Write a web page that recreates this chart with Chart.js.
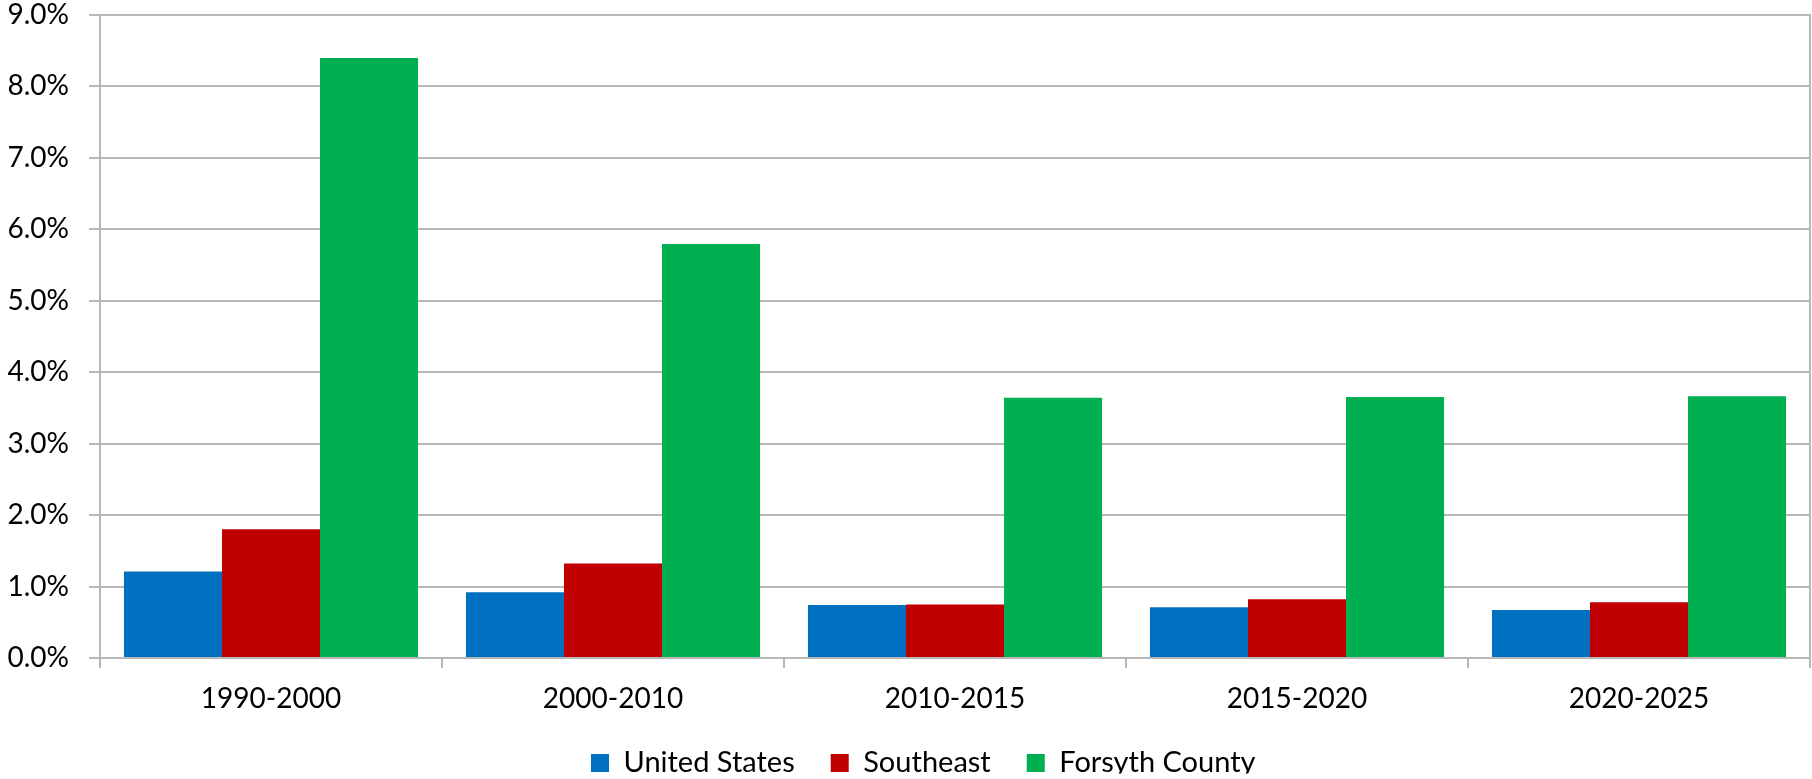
<!DOCTYPE html>
<html><head><meta charset="utf-8">
<script src="https://cdn.jsdelivr.net/npm/chart.js@4"></script>
<style>html,body{margin:0;padding:0;background:#fff;}</style>
</head><body>
<canvas id="c" width="1812" height="779"></canvas>
<script>
const categories = ['1990-2000', '2000-2010', '2010-2015', '2015-2020', '2020-2025'];
const unitedStates = [1.21, 0.92, 0.74, 0.71, 0.67];
const southeast = [1.80, 1.32, 0.75, 0.82, 0.78];
const forsythCounty = [8.39, 5.79, 3.64, 3.65, 3.66];
const seriesNames = ['United States', 'Southeast', 'Forsyth County'];
const seriesColors = ['#0070C0', '#C00000', '#00B050'];
const yMin = 0, yMax = 9, yStep = 1;

const GRID = '#B8B8B8';
const legendPlace = {
  id: 'legendPlace',
  beforeLayout(chart) {
    const l = chart.legend;
    if (!l || l._patched) return;
    const f = l.fit.bind(l);
    l.fit = function () { f(); this.height = 61; };
    l._patched = true;
  },
  afterLayout(chart) {
    const l = chart.legend;
    if (!l) return;
    const pad = l.options.labels.padding;
    const w = l.right - l.left;
    l.left = 591 - pad;
    l.right = l.left + w;
    l.top = 748.5 - pad;
    l.bottom = l.top + 61;
  }
};

const seriesData = [unitedStates, southeast, forsythCounty];
new Chart(document.getElementById('c'), {
  type: 'bar',
  data: {
    labels: categories,
    datasets: seriesNames.map((n, i) => ({
      label: n,
      data: seriesData[i],
      backgroundColor: seriesColors[i],
      borderWidth: 0,
      barPercentage: 1,
      categoryPercentage: 0.86
    }))
  },
  plugins: [legendPlace],
  options: {
    responsive: false,
    animation: false,
    layout: { padding: { top: 0, right: 0, left: 0, bottom: 0 } },
    plugins: {
      tooltip: { enabled: false },
      legend: {
        position: 'bottom',
        align: 'start',
        labels: {
          font: { family: 'Lato', size: 29 },
          color: '#000',
          boxWidth: 18,
          boxHeight: 18,
          padding: 36
        }
      }
    },
    scales: {
      x: {
        grid: { offset: true, drawOnChartArea: false, drawTicks: true, tickLength: 10, color: GRID, lineWidth: 2 },
        border: { color: GRID, width: 2 },
        ticks: { font: { family: 'Lato', size: 28 }, color: '#000', padding: 14 },
        afterFit: a => { a.height = 60; }
      },
      y: {
        min: yMin, max: yMax,
        ticks: { stepSize: yStep, callback: v => v.toFixed(1) + '%', font: { family: 'Lato', size: 28 }, color: '#000', padding: 20 },
        grid: { color: GRID, lineWidth: 2, tickLength: 11 },
        border: { color: GRID, width: 2 },
        afterFit: a => { a.width = 100; a.paddingTop = 14.5; a.paddingBottom = 0; }
      },
      y2: {
        position: 'right',
        min: yMin, max: yMax,
        ticks: { display: false },
        grid: { drawOnChartArea: false, drawTicks: false },
        border: { display: true, color: GRID, width: 2 },
        afterFit: a => { a.width = 2; a.paddingTop = 0; a.paddingBottom = 0; }
      }
    }
  }
});
</script>
</body></html>
